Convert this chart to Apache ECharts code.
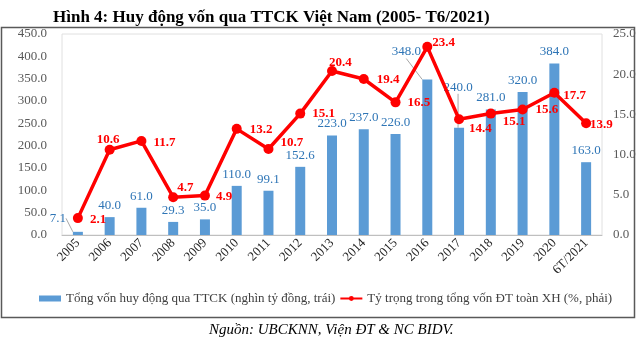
<!DOCTYPE html>
<html>
<head>
<meta charset="utf-8">
<script src="https://cdn.jsdelivr.net/npm/echarts@6/dist/echarts.min.js"></script>
<style>
html,body{margin:0;padding:0;background:#fff;}
#c{width:640px;height:344px;}
</style>
</head>
<body>
<div id="c"></div>
<script>
var categories = ['2005','2006','2007','2008','2009','2010','2011','2012','2013','2014','2015','2016','2017','2018','2019','2020','6T/2021'];
var capitalValues = [7.1, 40.0, 61.0, 29.3, 35.0, 110.0, 99.1, 152.6, 223.0, 237.0, 226.0, 348.0, 240.0, 281.0, 320.0, 384.0, 163.0];
var shareValues = [2.1, 10.6, 11.7, 4.7, 4.9, 13.2, 10.7, 15.1, 20.4, 19.4, 16.5, 23.4, 14.4, 15.1, 15.6, 17.7, 13.9];
var titleText = 'Hình 4: Huy động vốn qua TTCK Việt Nam (2005- T6/2021)';
var sourceText = 'Nguồn: UBCKNN, Viện ĐT & NC BIDV.';
var barName = 'Tổng vốn huy động qua TTCK (nghìn tỷ đồng, trái)';
var lineName = 'Tỷ trọng trong tổng vốn ĐT toàn XH (%, phải)';

// label placement tweaks (style only)
var lineLabelOffsets = [[2,2],[-23,-10],[2,2],[-6,-10],[1,1],[3,1],[2,-6],[2,0],[-13,-8],[3,1],[2,0],[-5,-4],[0,9],[2,8],[3,0],[-1,3],[-6,1]];
var barLabelShift = {0:[-20,-2], 11:[-21,-16], 12:[-1,-29]};

var serif = '"Liberation Serif","Times New Roman",serif';
var chart = echarts.init(document.getElementById('c'), null, {renderer:'canvas'});

var lineData = shareValues.map(function(v,i){
  return {value:v, label:{offset: lineLabelOffsets[i]}};
});
var barData = capitalValues.map(function(v,i){
  var item = {value:v};
  if(barLabelShift[i]){ item.labelLine = {show:true}; }
  return item;
});

chart.setOption({
  animation:false,
  title:{
    text:titleText, left:48, top:4,
    textStyle:{fontFamily:serif, fontSize:17, fontWeight:'bold', color:'#000'}
  },
  graphic:[
    {type:'rect', shape:{x:1.5, y:27.5, width:633, height:290}, style:{fill:null, stroke:'#595959', lineWidth:1.5}, silent:true, z:-1},
    {type:'text', left:209, top:323, style:{text:sourceText, font:'italic 15px '+serif, fill:'#000'}}
  ],
  legend:{
    left:34, top:287, itemGap:4, itemWidth:22, itemHeight:6,
    textStyle:{fontFamily:serif, fontSize:13, color:'#404040'},
    data:[{name:barName, icon:'rect'}, {name:lineName}]
  },
  grid:{left:62, right:38, top:34, bottom:109, show:true, borderColor:'#e0e0e0', borderWidth:1},
  xAxis:{
    type:'category', data:categories,
    axisLine:{lineStyle:{color:'#bfbfbf'}}, axisTick:{show:false},
    axisLabel:{rotate:45, margin:6, fontFamily:serif, fontSize:13, color:'#262626', interval:0}
  },
  yAxis:[
    {type:'value', min:0, max:450, interval:50, splitLine:{show:false},
     axisLine:{show:false}, axisTick:{show:false},
     axisLabel:{margin:15, fontFamily:serif, fontSize:13, color:'#595959', formatter:function(v){return v.toFixed(1);}}},
    {type:'value', min:0, max:25, interval:5, splitLine:{show:false},
     axisLine:{show:false}, axisTick:{show:false},
     axisLabel:{margin:11, fontFamily:serif, fontSize:13, color:'#595959', formatter:function(v){return v.toFixed(1);}}}
  ],
  series:[
    {name:barName, type:'bar', data:barData, barWidth:10, yAxisIndex:0,
     itemStyle:{color:'#5b9bd5'},
     label:{show:true, position:'top', distance:5, fontFamily:serif, fontSize:13, color:'#2e75b6', formatter:function(p){return p.value.toFixed(1);}},
     labelLine:{show:false, lineStyle:{color:'#a6a6a6', width:1}},
     labelLayout:function(p){
       var s = barLabelShift[p.dataIndex];
       if(s){ return {dx:s[0], dy:s[1]}; }
       return {};
     },
     z:2},
    {name:lineName, type:'line', data:lineData, yAxisIndex:1,
     symbol:'circle', symbolSize:10,
     lineStyle:{color:'#ff0000', width:3.5}, itemStyle:{color:'#ff0000'},
     label:{show:true, position:'right', distance:5, fontFamily:serif, fontSize:13, fontWeight:'bold', color:'#ff0000', formatter:function(p){return p.value.toFixed(1);}},
     z:3}
  ]
});
</script>
</body>
</html>
